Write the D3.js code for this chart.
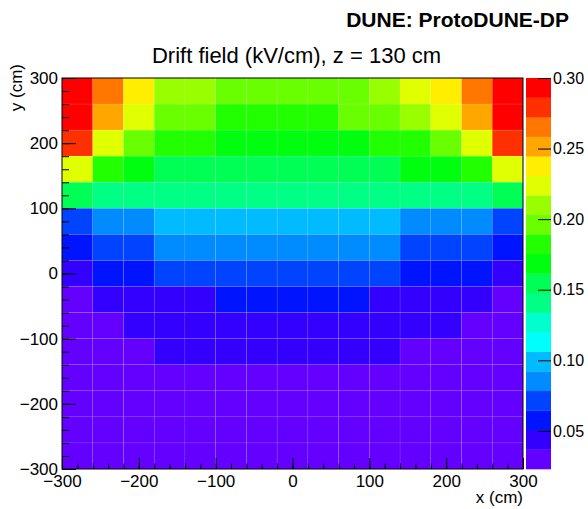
<!DOCTYPE html>
<html>
<head>
<meta charset="utf-8">
<script src="https://cdn.jsdelivr.net/npm/d3@7"></script>
<style>
  html, body { margin: 0; padding: 0; background: #fff; }
  svg { display: block; font-family: "Liberation Sans", Arial, Helvetica, sans-serif; }
  .tick text { font-family: "Liberation Sans", Arial, Helvetica, sans-serif; }
</style>
</head>
<body>
<svg id="chart" width="588" height="509"></svg>
<script>
// ---- data ----
const xCenters = [-280, -240, -200, -160, -120, -80, -40, 0, 40, 80, 120, 160, 200, 240, 280];
const yCenters = [280, 240, 200, 160, 120, 80, 40, 0, -40, -80, -120, -160, -200, -240, -280];
// drift field (kV/cm) per cell; rows follow yCenters, columns follow xCenters
const fieldRows = [
  [0.298, 0.266, 0.238, 0.209, 0.207, 0.197, 0.195, 0.194, 0.195, 0.198, 0.208, 0.222, 0.236, 0.264, 0.299],
  [0.292, 0.252, 0.223, 0.197, 0.195, 0.183, 0.181, 0.180, 0.182, 0.194, 0.198, 0.211, 0.225, 0.250, 0.291],
  [0.280, 0.224, 0.196, 0.183, 0.181, 0.169, 0.167, 0.166, 0.168, 0.170, 0.182, 0.184, 0.197, 0.226, 0.281],
  [0.225, 0.182, 0.169, 0.155, 0.154, 0.153, 0.152, 0.152, 0.153, 0.154, 0.156, 0.167, 0.170, 0.184, 0.226],
  [0.156, 0.142, 0.141, 0.140, 0.140, 0.139, 0.139, 0.139, 0.139, 0.139, 0.140, 0.140, 0.141, 0.142, 0.155],
  [0.072, 0.086, 0.088, 0.100, 0.101, 0.101, 0.102, 0.102, 0.101, 0.101, 0.100, 0.087, 0.086, 0.085, 0.071],
  [0.057, 0.072, 0.074, 0.086, 0.087, 0.088, 0.088, 0.088, 0.088, 0.087, 0.086, 0.073, 0.072, 0.071, 0.058],
  [0.043, 0.058, 0.060, 0.072, 0.073, 0.074, 0.074, 0.074, 0.074, 0.073, 0.072, 0.060, 0.059, 0.057, 0.044],
  [0.031, 0.044, 0.046, 0.048, 0.049, 0.058, 0.059, 0.059, 0.059, 0.058, 0.049, 0.047, 0.046, 0.044, 0.031],
  [0.030, 0.035, 0.040, 0.044, 0.045, 0.047, 0.048, 0.048, 0.048, 0.047, 0.046, 0.044, 0.040, 0.035, 0.030],
  [0.028, 0.030, 0.034, 0.039, 0.041, 0.042, 0.043, 0.043, 0.043, 0.042, 0.040, 0.035, 0.033, 0.030, 0.028],
  [0.026, 0.028, 0.030, 0.032, 0.033, 0.034, 0.034, 0.034, 0.034, 0.033, 0.032, 0.030, 0.028, 0.027, 0.026],
  [0.025, 0.026, 0.027, 0.028, 0.029, 0.029, 0.029, 0.029, 0.029, 0.029, 0.028, 0.027, 0.026, 0.025, 0.025],
  [0.024, 0.025, 0.025, 0.026, 0.026, 0.026, 0.027, 0.027, 0.026, 0.026, 0.026, 0.025, 0.025, 0.024, 0.024],
  [0.023, 0.024, 0.024, 0.025, 0.025, 0.025, 0.025, 0.025, 0.025, 0.025, 0.025, 0.024, 0.024, 0.023, 0.023]
];
const zRange = [0.023, 0.30];
const xTicks = [-300, -200, -100, 0, 100, 200, 300];
const yTicks = [-300, -200, -100, 0, 100, 200, 300];
const zTicks = [0.05, 0.10, 0.15, 0.20, 0.25, 0.30];
const titleText = "Drift field (kV/cm), z = 130 cm";
const headerText = "DUNE: ProtoDUNE-DP";
const xTitle = "x (cm)";
const yTitle = "y (cm)";

// ---- layout ----
const L = 62, R = 523, T = 78, B = 469;
const cbL = 526, cbR = 551;
const font = '"Liberation Sans", Arial, Helvetica, sans-serif';

const svg = d3.select("#chart");

const binW = xCenters[1] - xCenters[0];
const binH = Math.abs(yCenters[0] - yCenters[1]);
const x = d3.scaleLinear().domain([-300, 300]).range([L, R]);
const y = d3.scaleLinear().domain([-300, 300]).range([B, T]);

// ROOT-like "pretty" palette (50 hues violet->red) sampled into 20 contours
const nCont = 20, nPal = 50;
const contourColors = d3.range(nCont).map(k => {
  const p = Math.floor((k + 0.99) * nPal / nCont);
  const hue = p >= nPal - 1 ? 0 : 280 - (p + 1) * (280 / nPal);
  return d3.hsl(hue, 1, 0.5).formatHex();
});
const color = d3.scaleQuantize().domain(zRange).range(contourColors);

// ---- cells ----
const cells = [];
yCenters.forEach((yc, i) => xCenters.forEach((xc, j) => cells.push({ xc, yc, v: fieldRows[i][j] })));

svg.append("g").selectAll("rect").data(cells).join("rect")
  .attr("x", d => x(d.xc - binW / 2))
  .attr("y", d => y(d.yc + binH / 2))
  .attr("width", d => x(d.xc + binW / 2) - x(d.xc - binW / 2))
  .attr("height", d => y(d.yc - binH / 2) - y(d.yc + binH / 2))
  .attr("fill", d => color(d.v))
  .attr("stroke", "rgba(255,255,255,0.13)")
  .attr("stroke-width", 0.6);

// ---- axes ----
function styleAxis(g) {
  g.select(".domain").remove();
  g.selectAll(".tick line").attr("stroke", "#000").attr("stroke-width", 1);
  g.selectAll(".tick text").attr("fill", "#000").style("font-size", "17px").style("font-family", font);
}
const xMinor = d3.range(-300, 301, 20);
const yMinor = d3.range(-300, 301, 20);

svg.append("g").attr("transform", `translate(0,${B})`)
  .call(d3.axisBottom(x).tickValues(xMinor).tickSize(-5.5).tickFormat(""))
  .call(styleAxis);
svg.append("g").attr("transform", `translate(0,${B})`)
  .call(d3.axisBottom(x).tickValues(xTicks).tickSize(-11).tickPadding(6).tickFormat(d3.format("d")))
  .call(styleAxis);

svg.append("g").attr("transform", `translate(${L},0)`)
  .call(d3.axisLeft(y).tickValues(yMinor).tickSize(-7).tickFormat(""))
  .call(styleAxis);
svg.append("g").attr("transform", `translate(${L},0)`)
  .call(d3.axisLeft(y).tickValues(yTicks).tickSize(-14).tickPadding(4).tickFormat(d3.format("d")))
  .call(styleAxis);

// frame
svg.append("rect").attr("x", L).attr("y", T).attr("width", R - L).attr("height", B - T)
  .attr("fill", "none").attr("stroke", "#000").attr("stroke-width", 1);

// ---- colour bar ----
const z = d3.scaleLinear().domain(zRange).range([B, T]);
const bandEdges = [zRange[0], ...color.thresholds(), zRange[1]];
svg.append("g").selectAll("rect").data(d3.range(nCont)).join("rect")
  .attr("x", cbL).attr("width", cbR - cbL)
  .attr("y", k => z(bandEdges[k + 1]))
  .attr("height", k => z(bandEdges[k]) - z(bandEdges[k + 1]) + 0.3)
  .attr("fill", k => contourColors[k]);

svg.append("g").attr("transform", `translate(${cbR},0)`)
  .call(d3.axisRight(z).tickValues(zTicks).tickSize(-13).tickPadding(2).tickFormat(d3.format(".2f")))
  .call(styleAxis)
  .call(g => g.selectAll(".tick text").style("font-size", "16px"));

// ---- texts ----
svg.append("text").attr("x", 569).attr("y", 27).attr("text-anchor", "end")
  .style("font-family", font).style("font-weight", "bold").style("font-size", "21px")
  .text(headerText);

svg.append("text").attr("x", (L + R) / 2 + 4).attr("y", 63).attr("text-anchor", "middle")
  .style("font-family", font).style("font-size", "22px")
  .text(titleText);

svg.append("text").attr("x", R).attr("y", 503).attr("text-anchor", "end")
  .style("font-family", font).style("font-size", "17px")
  .text(xTitle);

svg.append("text").attr("transform", `translate(22,${T - 14}) rotate(-90)`).attr("text-anchor", "end")
  .style("font-family", font).style("font-size", "17px")
  .text(yTitle);
</script>
</body>
</html>
